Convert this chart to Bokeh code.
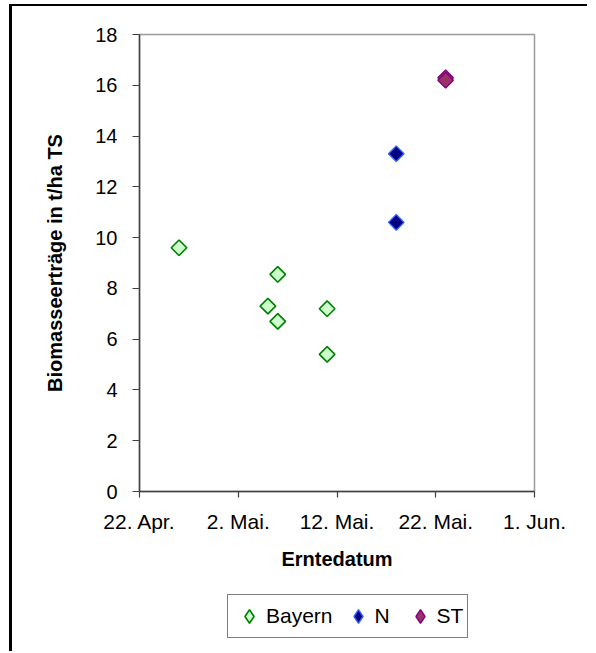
import math
import pandas as pd
from bokeh.plotting import figure
from bokeh.layouts import column
from bokeh.models import Range1d, FixedTicker, Legend, LegendItem
from bokeh.embed import file_html
from bokeh.resources import INLINE

# ---- data ----
origin = "2006-04-22"
bayern_dates = ["2006-04-26", "2006-05-06", "2006-05-05", "2006-05-06", "2006-05-11", "2006-05-11"]
bayern_vals = [9.6, 8.55, 7.3, 6.7, 7.2, 5.4]
n_dates = ["2006-05-18", "2006-05-18"]
n_vals = [13.3, 10.6]
st_dates = ["2006-05-23", "2006-05-23"]
st_vals = [16.3, 16.2]
x_tick_dates = ["2006-04-22", "2006-05-02", "2006-05-12", "2006-05-22", "2006-06-01"]
x_tick_labels = ["22. Apr.", "2. Mai.", "12. Mai.", "22. Mai.", "1. Jun."]
y_ticks = [0, 2, 4, 6, 8, 10, 12, 14, 16, 18]
series_names = ["Bayern", "N", "ST"]


def days(ds):
    o = pd.Timestamp(origin)
    return [int((pd.Timestamp(d) - o).days) for d in ds]


bx, nx, sx, tx = days(bayern_dates), days(n_dates), days(st_dates), days(x_tick_dates)
series_x = [bx, nx, sx]
series_y = [bayern_vals, n_vals, st_vals]

FONT = "Liberation Sans"
AXC = "#404040"
STYLES = [
    dict(fill_color="#CCFFCC", line_color="#008000", line_width=1.6),
    dict(fill_color="#000080", line_color="#3366FF", line_width=1.4),
    dict(fill_color="#993366", line_color="#800080", line_width=1.4),
]
ang = math.pi / 4
W = 575

p = figure(
    output_backend="svg", toolbar_location=None,
    frame_width=395, frame_height=457,
    min_border_left=127, min_border_top=28, min_border_right=W - 127 - 395, min_border_bottom=85,
    x_range=Range1d(tx[0], tx[-1]), y_range=Range1d(0, 18),
)
p.background_fill_color = "white"
p.border_fill_color = "white"
p.outline_line_color = "#9a9a9a"
p.outline_line_width = 1.5
p.xgrid.grid_line_color = None
p.ygrid.grid_line_color = None

p.xaxis.ticker = FixedTicker(ticks=tx)
p.xaxis.major_label_overrides = {t: l for t, l in zip(tx, x_tick_labels)}
p.yaxis.ticker = FixedTicker(ticks=y_ticks)
for ax in (p.xaxis[0], p.yaxis[0]):
    ax.axis_line_color = AXC
    ax.axis_line_width = 1.5
    ax.major_tick_line_color = AXC
    ax.major_tick_line_width = 1.2
    ax.major_tick_in = 0
    ax.minor_tick_line_color = None
    ax.major_label_text_font = FONT
    ax.major_label_text_color = "black"
    ax.axis_label_text_font = FONT
    ax.axis_label_text_font_style = "bold"
    ax.axis_label_text_color = "black"
    ax.axis_label_text_font_size = "20px"

p.xaxis.major_tick_out = 6
p.yaxis.major_tick_out = 7
p.xaxis.major_label_text_font_size = "21px"
p.yaxis.major_label_text_font_size = "20px"
p.xaxis.major_label_standoff = 12
p.yaxis.major_label_standoff = 15
p.xaxis.axis_label = "Erntedatum"
p.yaxis.axis_label = "Biomasseerträge in t/ha TS"
p.xaxis.axis_label_standoff = 12
p.yaxis.axis_label_standoff = 26

for xs, ys, st in zip(series_x, series_y, STYLES):
    p.scatter(xs, ys, marker="square", angle=ang, size=11, **st)

# legend strip below the chart (same series, plotted outside its visible range)
H2 = 75
p2 = figure(
    output_backend="svg", toolbar_location=None, width=W, height=H2,
    min_border=0, x_axis_location=None, y_axis_location=None,
    x_range=Range1d(tx[0], tx[-1]), y_range=Range1d(100, 101),
)
p2.outline_line_color = None
p2.xgrid.grid_line_color = None
p2.ygrid.grid_line_color = None
p2.border_fill_color = "white"
items = []
for name, xs, ys, st in zip(series_names, series_x, series_y, STYLES):
    r = p2.scatter(xs, ys, marker="diamond", size=14, **st)
    items.append(LegendItem(label=name, renderers=[r]))

legend = Legend(
    items=items, orientation="horizontal", location=(88, 13),
    label_text_font=FONT, label_text_font_size="21px", label_text_color="black",
    glyph_width=34, glyph_height=34, label_standoff=0, spacing=8, padding=4,
    border_line_color="black", border_line_width=1, background_fill_color="white",
    margin=0,
)
p2.add_layout(legend)

layout = column(p, p2, spacing=0)
layout.styles = {"margin-left": "9px", "margin-top": "4px",
                 "border-left": "3px solid black", "border-top": "2px solid black"}

open("out.html", "w").write(file_html(layout, INLINE))
